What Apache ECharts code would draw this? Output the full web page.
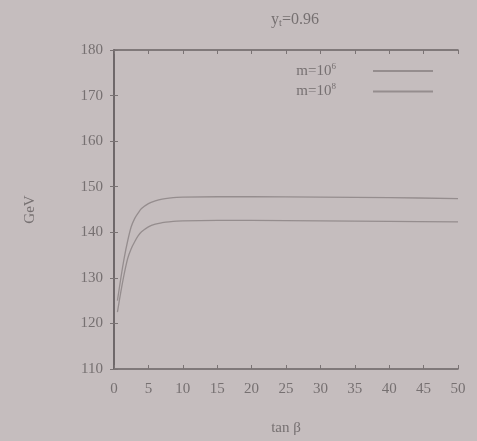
<!DOCTYPE html>
<html>
<head>
    <meta charset="utf-8">
    <title>y_t=0.96</title>
    <script src="https://cdn.jsdelivr.net/npm/echarts@6/dist/echarts.min.js"></script>
    <style>
        body { margin: 0; background: #c5bdbe; }
        #main { width: 477px; height: 441px; }
    </style>
</head>
<body>
<div id="main"></div>
<script type="text/javascript">
    // tan beta values
    var tanb = [0.5, 1, 1.5, 2, 2.5, 3, 3.5, 4, 5, 6, 7, 8, 10, 15, 20, 30, 40, 50];
    // m=10^6 (lower curve)
    var m6 = [122.5, 127, 131, 134.3, 136.4, 137.9, 139.2, 140.1, 141.2, 141.8, 142.1, 142.3, 142.5, 142.6, 142.6, 142.5, 142.4, 142.3];
    // m=10^8 (upper curve)
    var m8 = [125, 130, 134.5, 138.2, 141.2, 143, 144.2, 145.2, 146.3, 146.9, 147.3, 147.5, 147.7, 147.8, 147.8, 147.7, 147.6, 147.4];
    var xTicks = [0, 5, 10, 15, 20, 25, 30, 35, 40, 45, 50];
    var yTicks = [110, 120, 130, 140, 150, 160, 170, 180];

    function pairs(xs, ys) {
        var out = [];
        for (var i = 0; i < xs.length; i++) out.push([xs[i], ys[i]]);
        return out;
    }

    var txt = '#767071';
    var lineCol = '#958d8e';
    var font = 'Liberation Serif';

    var myChart = echarts.init(document.getElementById('main'));
    myChart.setOption({
        backgroundColor: '#c5bdbe',
        animation: false,
        title: {
            text: 'y{sub|t}=0.96',
            left: 290,
            top: 6,
            textAlign: 'center',
            textStyle: {
                fontFamily: font, fontSize: 16, fontWeight: 'normal', color: txt,
                rich: { sub: { fontFamily: font, fontSize: 10, color: txt, verticalAlign: 'bottom', padding: [7, 0, 0, 0] } }
            }
        },
        legend: {
            right: 39,
            top: 57,
            orient: 'vertical',
            align: 'right',
            itemGap: 4,
            itemWidth: 60,
            itemHeight: 2,
            icon: 'rect',
            data: ['m=10^6', 'm=10^8'],
            formatter: function (name) {
                return name.replace('^6', '{sup|6}').replace('^8', '{sup|8}');
            },
            textStyle: {
                fontFamily: font, fontSize: 15, color: txt, padding: [0, 32, 0, 0],
                rich: { sup: { fontFamily: font, fontSize: 9, color: txt, verticalAlign: 'top', padding: [0, 0, 9, 0] } }
            }
        },
        grid: { left: 114, right: 19, top: 50, bottom: 71 },
        xAxis: [{
            type: 'value', min: 0, max: 50, interval: 5,
            name: 'tan β', nameLocation: 'middle', nameGap: 52,
            nameTextStyle: { fontFamily: font, fontSize: 15, color: txt },
            axisLine: { lineStyle: { color: '#6a6364', width: 1.5 } },
            axisTick: { inside: true, length: 4, lineStyle: { color: '#7a7374' } },
            axisLabel: { fontFamily: font, fontSize: 15, color: txt, margin: 13 },
            splitLine: { show: false }
        }, {
            type: 'value', min: 0, max: 50, interval: 5, position: 'top',
            axisLine: { lineStyle: { color: '#6a6364', width: 1.5 } },
            axisTick: { inside: true, length: 4, lineStyle: { color: '#7a7374' } },
            axisLabel: { show: false },
            splitLine: { show: false }
        }],
        yAxis: [{
            type: 'value', min: 110, max: 180, interval: 10,
            name: 'GeV', nameLocation: 'middle', nameGap: 76, nameRotate: 90,
            nameTextStyle: { fontFamily: font, fontSize: 15, color: txt },
            axisLine: { lineStyle: { color: '#6a6364', width: 1.5 } },
            axisTick: { inside: true, length: 4, lineStyle: { color: '#7a7374' } },
            axisLabel: { fontFamily: font, fontSize: 15, color: txt, margin: 11 },
            splitLine: { show: false }
        }, {
            type: 'value', min: 110, max: 180, interval: 10, position: 'right',
            axisLine: { lineStyle: { color: '#6a6364', width: 1.5 } },
            axisTick: { inside: true, length: 4, lineStyle: { color: '#7a7374' } },
            axisLabel: { show: false },
            splitLine: { show: false }
        }],
        series: [{
            name: 'm=10^6', type: 'line', smooth: 0.3, showSymbol: false,
            data: pairs(tanb, m6),
            itemStyle: { color: lineCol },
            lineStyle: { color: lineCol, width: 1.3 }
        }, {
            name: 'm=10^8', type: 'line', smooth: 0.3, showSymbol: false,
            data: pairs(tanb, m8),
            itemStyle: { color: lineCol },
            lineStyle: { color: lineCol, width: 1.3 }
        }]
    });
</script>
</body>
</html>
